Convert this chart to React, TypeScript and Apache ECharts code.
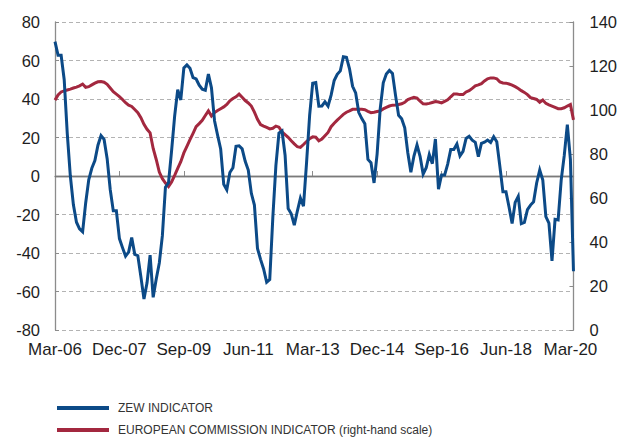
import React, { useEffect, useRef } from "react";
import * as echarts from "echarts";

// ---- Data (monthly, first observation Feb-06, last Mar-20) ----
// x position of an observation = months elapsed from 1 Mar 2006 to the end of its month
const TICK_LABELS = ["Mar-06", "Dec-07", "Sep-09", "Jun-11", "Mar-13", "Dec-14", "Sep-16", "Jun-18", "Mar-20"];
const TICK_STEP_MONTHS = 21;

const SERIES_NAMES = ["ZEW INDICATOR", "EUROPEAN COMMISSION INDICATOR (right-hand scale)"];

// ZEW indicator (left-hand scale), Feb-06 .. Mar-20
const ZEW_VALUES = [
  69.8, 62.7, 62.7, 50.0, 22.0, 0.0, -15.0, -24.0, -27.5, -29.0, -14.0,
  -2.0, 4.0, 8.0, 16.0, 21.0, 19.0, 9.0, -7.0, -18.1, -18.1, -32.5, -37.2,
  -41.6, -39.5, -32.0, -40.7, -41.4, -52.4, -63.9, -55.5, -41.1, -63.0, -53.5, -45.2,
  -31.0, -5.8, -3.5, 13.0, 31.1, 44.8, 39.5, 56.1, 57.7, 56.0, 51.1, 50.4,
  47.2, 45.1, 44.5, 53.0, 45.8, 28.7, 21.2, 14.0, -4.3, -7.2, 1.8, 4.3,
  15.4, 15.7, 14.1, 7.6, 3.1, -9.0, -15.1, -37.6, -43.3, -48.3, -55.2, -53.8,
  -21.6, 5.4, 22.3, 23.4, 10.8, -16.9, -19.6, -25.5, -18.2, -11.5, -15.7, 6.9,
  31.5, 48.2, 48.5, 36.3, 36.4, 38.5, 36.3, 42.0, 49.6, 52.8, 54.6, 62.0,
  61.7, 55.7, 46.6, 43.2, 33.1, 29.8, 27.1, 8.6, 6.9, -3.6, 11.5, 34.9,
  48.4, 53.0, 54.8, 53.3, 41.9, 31.5, 29.7, 25.0, 12.1, 1.9, 10.4, 16.1,
  10.2, 1.0, 4.3, 11.2, 6.4, 19.2, -6.8, 0.5, 0.5, 6.2, 13.8, 13.8,
  16.6, 10.4, 12.8, 19.5, 20.6, 18.6, 17.5, 10.0, 17.0, 17.6, 18.7, 17.4,
  20.4, 17.8, 5.1, -8.2, -8.2, -16.1, -24.7, -13.7, -10.6, -24.7, -24.1, -17.5,
  -15.1, -13.4, -3.6, 3.1, -2.1, -21.1, -24.5, -44.1, -22.5, -22.8, -2.1, 10.7,
  26.7, 8.7, -49.5,
];

// European Commission indicator (right-hand scale), Feb-06 .. Mar-20
const EC_VALUES = [
  104.5, 106.8, 108.2, 108.7, 109.1, 109.5, 110.0, 110.4, 111.0, 111.8, 110.3,
  110.6, 111.4, 112.2, 112.8, 112.9, 112.6, 111.7, 110.0, 108.3, 107.2, 106.1, 104.8,
  103.3, 102.2, 101.6, 100.2, 98.8, 96.5, 93.5, 91.2, 89.6, 82.5, 77.5, 71.8,
  68.8, 66.8, 65.2, 67.3, 70.3, 73.5, 76.5, 80.5, 83.5, 86.5, 89.4, 92.4,
  93.8, 95.3, 97.5, 99.6, 97.3, 98.8, 99.8, 100.6, 101.4, 102.5, 104.2, 105.2,
  106.0, 107.2, 105.8, 104.3, 103.2, 101.8, 99.0, 95.8, 93.4, 92.7, 92.1, 91.4,
  91.7, 92.7, 92.2, 90.0, 88.8, 87.6, 86.0, 84.6, 83.3, 83.0, 84.3, 85.7,
  87.0, 87.8, 87.6, 86.0, 86.8, 88.3, 89.8, 92.4, 94.0, 95.4, 96.7, 98.0,
  99.0, 99.6, 100.3, 100.3, 100.3, 100.3, 100.1, 99.4, 98.8, 99.0, 99.3, 99.6,
  100.5, 101.2, 101.8, 102.2, 102.3, 102.5, 102.8, 103.5, 104.7, 105.3, 105.8, 105.4,
  104.0, 102.8, 102.7, 103.0, 103.4, 103.8, 103.6, 103.2, 103.9, 104.6, 106.0, 107.3,
  107.3, 107.0, 107.0, 108.2, 108.8, 109.8, 111.0, 111.4, 112.0, 113.2, 114.2, 114.6,
  114.6, 114.2, 112.8, 112.3, 112.2, 111.8, 111.3, 110.6, 109.8, 108.8, 108.0, 107.0,
  105.6, 105.2, 104.8, 103.5, 104.5, 103.0, 102.3, 101.8, 101.2, 100.6, 100.6, 101.0,
  101.8, 102.5, 95.5,
];

const BLUE = "#0c4a87";
const RED = "#a3283f";
const AXIS_GREY = "#8c8c8c";
const TEXT_COLOR = "#1e1e1e";
const FONT = "'Liberation Sans', Arial, Helvetica, sans-serif";

export default function App() {
  const ref = useRef<HTMLDivElement>(null);

  useEffect(() => {
    if (!ref.current) return;
    const chart = echarts.init(ref.current, undefined, { renderer: "svg" });

    const xs = ZEW_VALUES.map((_, k) => k);
    const lastX = xs[xs.length - 1];

    const option: any = {
      animation: false,
      backgroundColor: "#ffffff",
      textStyle: { fontFamily: FONT },
      grid: { left: 55, right: 44, top: 22, bottom: 107, containLabel: false },
      legend: {
        orient: "vertical",
        left: 57,
        top: 402,
        padding: 0,
        itemGap: 10,
        itemWidth: 52,
        itemHeight: 4,
        icon: "rect",
        selectedMode: false,
        data: [SERIES_NAMES[0], SERIES_NAMES[1]],
        textStyle: { fontSize: 12, color: "#333333", fontFamily: FONT, padding: [0, 0, 0, 4] },
      },
      xAxis: {
        type: "value",
        min: 0,
        max: lastX,
        interval: TICK_STEP_MONTHS,
        axisLine: { show: true, lineStyle: { color: AXIS_GREY, width: 1.3 } },
        axisTick: { show: true, inside: true, length: 5, lineStyle: { color: AXIS_GREY, width: 1 } },
        axisLabel: {
          formatter: (v: number) =>
            v % TICK_STEP_MONTHS === 0 ? TICK_LABELS[v / TICK_STEP_MONTHS] ?? "" : "",
          fontSize: 17,
          color: TEXT_COLOR,
          fontFamily: FONT,
          margin: 11,
          hideOverlap: false,
        },
        splitLine: { show: false },
      },
      yAxis: [
        {
          type: "value",
          position: "left",
          min: -80,
          max: 80,
          interval: 20,
          axisLine: { show: true, lineStyle: { color: AXIS_GREY, width: 1.3 } },
          axisTick: { show: true, inside: true, length: 4, lineStyle: { color: AXIS_GREY } },
          axisLabel: { fontSize: 16.5, color: TEXT_COLOR, fontFamily: FONT, margin: 15 },
          splitLine: { show: true, lineStyle: { color: "#b3b3b3", width: 1, type: [4, 3] } },
        },
        {
          type: "value",
          position: "right",
          min: 0,
          max: 140,
          interval: 20,
          axisLine: { show: true, lineStyle: { color: AXIS_GREY, width: 1.3 } },
          axisTick: { show: true, inside: true, length: 4, lineStyle: { color: AXIS_GREY } },
          axisLabel: { fontSize: 16.5, color: TEXT_COLOR, fontFamily: FONT, margin: 16 },
          splitLine: { show: false },
        },
      ],
      series: [
        {
          name: SERIES_NAMES[1],
          type: "line",
          yAxisIndex: 1,
          showSymbol: false,
          symbol: "none",
          color: RED,
          lineStyle: { color: RED, width: 3, join: "miter", miterLimit: 10 },
          emphasis: { disabled: true },
          z: 3,
          data: xs.map((x, k) => [x, EC_VALUES[k]]),
        },
        {
          name: SERIES_NAMES[0],
          type: "line",
          yAxisIndex: 0,
          showSymbol: false,
          symbol: "none",
          color: BLUE,
          lineStyle: { color: BLUE, width: 3, join: "miter", miterLimit: 10 },
          emphasis: { disabled: true },
          z: 4,
          data: xs.map((x, k) => [x, ZEW_VALUES[k]]),
          markLine: {
            silent: true,
            symbol: "none",
            z: 1,
            label: { show: false },
            lineStyle: { color: "#7a7a7a", width: 1.3, type: "solid" },
            data: [{ yAxis: 0 }],
          },
        },
      ],
    };

    chart.setOption(option);
    return () => chart.dispose();
  }, []);

  return (
    <div
      ref={ref}
      style={{ position: "fixed", left: 0, top: 0, width: 620, height: 437, background: "#fff" }}
    />
  );
}
